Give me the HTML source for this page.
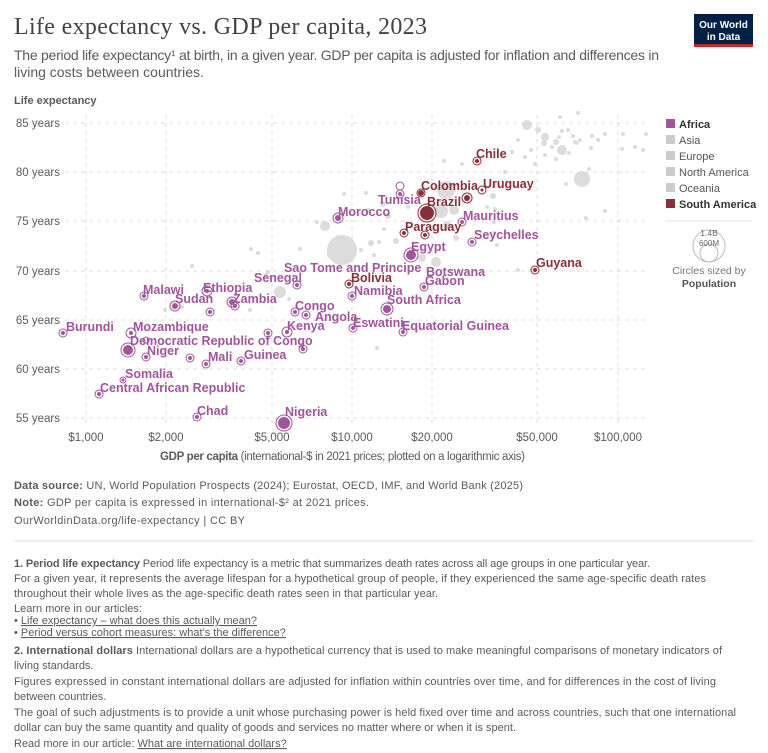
<!DOCTYPE html>
<html><head><meta charset="utf-8"><style>
html,body{margin:0;padding:0;background:#fff}
svg{display:block}
text{font-family:"Liberation Sans",sans-serif}
.af{fill:#a2559c;font-weight:bold;font-size:12.5px}
.sa{fill:#883039;font-weight:bold;font-size:12.5px}
.g{fill:#dcdcdc}
.tk{fill:#5b5b5b;font-size:11.5px}
.ft{fill:#5b5b5b;font-size:11px}
</style></head><body>
<svg width="768" height="753" viewBox="0 0 768 753" xmlns="http://www.w3.org/2000/svg">
<text x="14" y="34" font-family="Liberation Serif" font-size="24" fill="#444" textLength="413" style="font-family:'Liberation Serif',serif">Life expectancy vs. GDP per capita, 2023</text>
<text x="14" y="60" font-size="14" fill="#5b5b5b" textLength="645">The period life expectancy¹ at birth, in a given year. GDP per capita is adjusted for inflation and differences in</text>
<text x="14" y="77" font-size="14" fill="#5b5b5b">living costs between countries.</text>
<rect x="694" y="14" width="59" height="31" fill="#002147"/><rect x="694" y="44" width="59" height="3" fill="#ce261e"/>
<text x="723.5" y="28" font-size="10" fill="#fff" text-anchor="middle" font-weight="bold">Our World</text>
<text x="723.5" y="40" font-size="10" fill="#fff" text-anchor="middle" font-weight="bold">in Data</text>
<text x="14" y="104" font-size="11" font-weight="bold" fill="#5b5b5b">Life expectancy</text>
<g stroke="#ddd" stroke-dasharray="4,4" stroke-width="1">
<line x1="65" y1="123" x2="647" y2="123"/><line x1="65" y1="172" x2="647" y2="172"/><line x1="65" y1="221" x2="647" y2="221"/><line x1="65" y1="271" x2="647" y2="271"/><line x1="65" y1="320" x2="647" y2="320"/><line x1="65" y1="369" x2="647" y2="369"/><line x1="65" y1="418" x2="647" y2="418"/>
<line x1="86" y1="115" x2="86" y2="424"/><line x1="166" y1="115" x2="166" y2="424"/><line x1="272" y1="115" x2="272" y2="424"/><line x1="352" y1="115" x2="352" y2="424"/><line x1="432" y1="115" x2="432" y2="424"/><line x1="537" y1="115" x2="537" y2="424"/><line x1="618" y1="115" x2="618" y2="424"/>
</g>
<g class="tk" text-anchor="end">
<text x="60" y="127">85 years</text><text x="60" y="176">80 years</text><text x="60" y="225">75 years</text><text x="60" y="275">70 years</text><text x="60" y="324">65 years</text><text x="60" y="373">60 years</text><text x="60" y="422">55 years</text>
</g>
<g class="tk" text-anchor="middle">
<text x="86" y="441">$1,000</text><text x="166" y="441">$2,000</text><text x="272" y="441">$5,000</text><text x="352" y="441">$10,000</text><text x="432" y="441">$20,000</text><text x="537" y="441">$50,000</text><text x="618" y="441">$100,000</text>
</g>
<text x="160" y="460" font-size="11.5" fill="#5b5b5b" textLength="365"><tspan font-weight="bold">GDP per capita</tspan> (international-$ in 2021 prices; plotted on a logarithmic axis)</text>
<g class="g">
<circle cx="342" cy="250" r="15"/><circle cx="446" cy="190" r="9"/><circle cx="582" cy="179" r="8"/><circle cx="527" cy="125" r="5"/><circle cx="538" cy="130" r="3"/><circle cx="545" cy="137" r="4"/><circle cx="544" cy="143" r="3"/><circle cx="556" cy="142" r="3"/><circle cx="560" cy="117" r="2"/><circle cx="562" cy="131" r="2"/><circle cx="568" cy="130" r="2"/><circle cx="559" cy="137" r="2"/><circle cx="573" cy="136" r="2"/><circle cx="577" cy="143" r="2"/><circle cx="562" cy="150" r="5"/><circle cx="575" cy="142" r="2"/><circle cx="556" cy="159" r="2"/><circle cx="592" cy="136" r="2"/><circle cx="605" cy="134" r="2"/><circle cx="623" cy="134" r="2"/><circle cx="635" cy="147" r="2"/><circle cx="622" cy="149" r="2"/><circle cx="643" cy="150" r="2"/><circle cx="646" cy="134" r="2"/><circle cx="578" cy="113" r="2"/><circle cx="591" cy="148" r="2"/><circle cx="569" cy="153" r="2"/><circle cx="589" cy="169" r="2"/><circle cx="566" cy="184" r="2"/><circle cx="586" cy="218" r="2"/><circle cx="545" cy="155" r="2"/><circle cx="512" cy="152" r="2"/><circle cx="525" cy="157" r="2"/><circle cx="535" cy="164" r="2"/><circle cx="531" cy="150" r="2"/><circle cx="518" cy="140" r="2"/><circle cx="444" cy="161" r="2"/><circle cx="462" cy="164" r="2"/><circle cx="505" cy="172" r="2"/><circle cx="494" cy="186" r="2"/><circle cx="493" cy="196" r="3"/><circle cx="495" cy="209" r="2"/><circle cx="487" cy="207" r="2"/><circle cx="494" cy="222" r="2"/><circle cx="494" cy="233" r="2"/><circle cx="497" cy="245" r="2"/><circle cx="441" cy="211" r="7"/><circle cx="454" cy="210" r="5"/><circle cx="447" cy="225" r="4"/><circle cx="456" cy="238" r="3"/><circle cx="436" cy="262" r="5"/><circle cx="422" cy="258" r="4"/><circle cx="396" cy="241" r="3"/><circle cx="384" cy="229" r="2"/><circle cx="388" cy="216" r="3"/><circle cx="368" cy="211" r="3"/><circle cx="383" cy="204" r="3"/><circle cx="408" cy="207" r="2"/><circle cx="325" cy="226" r="5"/><circle cx="317" cy="222" r="2"/><circle cx="344" cy="194" r="2"/><circle cx="366" cy="193" r="2"/><circle cx="371" cy="243" r="3"/><circle cx="374" cy="255" r="2"/><circle cx="379" cy="242" r="2"/><circle cx="361" cy="250" r="2"/><circle cx="329" cy="255" r="2"/><circle cx="300" cy="249" r="2"/><circle cx="268" cy="272" r="2"/><circle cx="251" cy="249" r="2"/><circle cx="258" cy="253" r="2"/><circle cx="280" cy="292" r="6"/><circle cx="266" cy="275" r="2"/><circle cx="289" cy="299" r="2"/><circle cx="250" cy="310" r="2"/><circle cx="192" cy="266" r="2"/><circle cx="182" cy="307" r="2"/><circle cx="165" cy="310" r="2"/><circle cx="377" cy="348" r="2"/><circle cx="518" cy="270" r="2"/><circle cx="605" cy="211" r="2"/><circle cx="580" cy="140" r="2"/><circle cx="598" cy="140" r="2"/><circle cx="552" cy="147" r="2"/>
</g>
<g fill="none" stroke="#a2559c" stroke-width="1">
<circle cx="63" cy="333" r="4"/><circle cx="144" cy="296" r="4"/><circle cx="175" cy="306" r="5"/><circle cx="207" cy="291" r="5"/><circle cx="232" cy="302" r="5"/><circle cx="235" cy="306" r="4"/><circle cx="297" cy="285" r="4"/><circle cx="352" cy="296" r="4"/><circle cx="387" cy="309" r="6"/><circle cx="295" cy="312" r="4"/><circle cx="306" cy="315" r="4"/><circle cx="287" cy="332" r="5"/><circle cx="353" cy="328" r="4"/><circle cx="403" cy="332" r="4"/><circle cx="131" cy="333" r="5"/><circle cx="128" cy="350" r="7"/><circle cx="146" cy="357" r="4"/><circle cx="206" cy="364" r="4"/><circle cx="241" cy="361" r="4"/><circle cx="123" cy="380" r="3"/><circle cx="99" cy="394" r="4"/><circle cx="197" cy="417" r="4"/><circle cx="284" cy="423" r="8"/><circle cx="190" cy="358" r="4"/><circle cx="210" cy="312" r="4"/><circle cx="303" cy="349" r="4"/><circle cx="268" cy="333" r="4"/><circle cx="338" cy="218" r="5"/><circle cx="400" cy="194" r="4"/><circle cx="462" cy="222" r="4"/><circle cx="472" cy="242" r="4"/><circle cx="411" cy="255" r="7"/><circle cx="424" cy="287" r="4"/><circle cx="400" cy="186" r="4"/><circle cx="146" cy="340" r="3"/></g>
<g fill="#a2559c">
<circle cx="63" cy="333" r="2"/><circle cx="144" cy="296" r="2"/><circle cx="175" cy="306" r="3"/><circle cx="207" cy="291" r="2"/><circle cx="232" cy="302" r="3"/><circle cx="235" cy="306" r="2"/><circle cx="297" cy="285" r="2"/><circle cx="352" cy="296" r="2"/><circle cx="387" cy="309" r="4"/><circle cx="295" cy="312" r="2"/><circle cx="306" cy="315" r="2"/><circle cx="287" cy="332" r="2"/><circle cx="353" cy="328" r="2"/><circle cx="403" cy="332" r="2"/><circle cx="131" cy="333" r="2"/><circle cx="128" cy="350" r="5"/><circle cx="146" cy="357" r="2"/><circle cx="206" cy="364" r="2"/><circle cx="241" cy="361" r="2"/><circle cx="123" cy="380" r="1.5"/><circle cx="99" cy="394" r="2"/><circle cx="197" cy="417" r="2"/><circle cx="284" cy="423" r="6"/><circle cx="190" cy="358" r="2"/><circle cx="210" cy="312" r="2"/><circle cx="303" cy="349" r="2"/><circle cx="268" cy="333" r="2"/><circle cx="338" cy="218" r="3"/><circle cx="400" cy="194" r="2"/><circle cx="462" cy="222" r="2"/><circle cx="472" cy="242" r="2"/><circle cx="411" cy="255" r="5"/><circle cx="424" cy="287" r="2"/></g>
<g fill="none" stroke="#883039">
<circle cx="477" cy="161" r="4"/><circle cx="421" cy="193" r="4"/><circle cx="482" cy="190" r="4"/><circle cx="467" cy="198" r="5"/><circle cx="427" cy="213" r="9"/><circle cx="404" cy="233" r="4"/><circle cx="425" cy="235" r="4"/><circle cx="535" cy="270" r="4"/><circle cx="349" cy="284" r="4"/></g>
<g fill="#883039">
<circle cx="477" cy="161" r="2"/><circle cx="421" cy="193" r="3"/><circle cx="482" cy="190" r="1.5"/><circle cx="467" cy="198" r="3"/><circle cx="427" cy="213" r="7"/><circle cx="404" cy="233" r="2"/><circle cx="425" cy="235" r="2"/><circle cx="535" cy="270" r="2"/><circle cx="349" cy="284" r="2"/></g>
<g class="sa">
<text x="476" y="158">Chile</text><text x="421" y="190">Colombia</text><text x="483" y="188">Uruguay</text><text x="427" y="206">Brazil</text><text x="405" y="231">Paraguay</text><text x="536" y="267">Guyana</text><text x="351" y="282">Bolivia</text>
</g>
<g class="af">
<text x="378" y="204">Tunisia</text><text x="338" y="216">Morocco</text><text x="463" y="220">Mauritius</text><text x="474" y="239">Seychelles</text><text x="411" y="251">Egypt</text><text x="284" y="272">Sao Tome and Principe</text><text x="426" y="276">Botswana</text><text x="425" y="285">Gabon</text><text x="254" y="282">Senegal</text><text x="143" y="294">Malawi</text><text x="203" y="292">Ethiopia</text><text x="354" y="295">Namibia</text><text x="175" y="303">Sudan</text><text x="233" y="303">Zambia</text><text x="387" y="304">South Africa</text><text x="295" y="310">Congo</text><text x="315" y="321">Angola</text><text x="287" y="330">Kenya</text><text x="353" y="327">Eswatini</text><text x="402" y="330">Equatorial Guinea</text><text x="66" y="331">Burundi</text><text x="133" y="331">Mozambique</text><text x="130" y="345">Democratic Republic of Congo</text><text x="147" y="355">Niger</text><text x="208" y="361">Mali</text><text x="244" y="359">Guinea</text><text x="125" y="378">Somalia</text><text x="100" y="392">Central African Republic</text><text x="197" y="415">Chad</text><text x="285" y="416">Nigeria</text>
</g>
<rect x="666" y="119" width="9" height="9" fill="#a2559c"/><text x="679" y="128" font-size="11" font-weight="bold" fill="#333">Africa</text>
<rect x="666" y="135" width="9" height="9" fill="#ccc"/><text x="679" y="144" font-size="11" fill="#555">Asia</text>
<rect x="666" y="151" width="9" height="9" fill="#ccc"/><text x="679" y="160" font-size="11" fill="#555">Europe</text>
<rect x="666" y="167" width="9" height="9" fill="#ccc"/><text x="679" y="176" font-size="11" fill="#555">North America</text>
<rect x="666" y="183" width="9" height="9" fill="#ccc"/><text x="679" y="192" font-size="11" fill="#555">Oceania</text>
<rect x="666" y="199" width="9" height="9" fill="#883039"/><text x="679" y="208" font-size="11" font-weight="bold" fill="#333">South America</text>
<line x1="666" y1="221" x2="752" y2="221" stroke="#e6e6e6"/>
<circle cx="709" cy="246" r="16" fill="none" stroke="#bbb"/><circle cx="709" cy="253" r="9" fill="none" stroke="#bbb"/>
<text x="709" y="236" font-size="8.5" fill="#666" text-anchor="middle">1.4B</text>
<text x="709" y="246" font-size="8" fill="#666" text-anchor="middle">600M</text>
<text x="709" y="274" font-size="10.5" fill="#777" text-anchor="middle">Circles sized by</text>
<text x="709" y="287" font-size="10.5" fill="#555" font-weight="bold" text-anchor="middle">Population</text>
<text x="14" y="489" class="ft" textLength="509"><tspan font-weight="bold">Data source:</tspan> UN, World Population Prospects (2024); Eurostat, OECD, IMF, and World Bank (2025)</text>
<text x="14" y="506" class="ft" textLength="355"><tspan font-weight="bold">Note:</tspan> GDP per capita is expressed in international-$² at 2021 prices.</text>
<text x="14" y="524" class="ft" textLength="231">OurWorldinData.org/life-expectancy | CC BY</text>
<line x1="14" y1="541" x2="754" y2="541" stroke="#e2e2e2"/>
<g class="ft">
<text x="14" y="567" textLength="636"><tspan font-weight="bold">1. Period life expectancy</tspan> Period life expectancy is a metric that summarizes death rates across all age groups in one particular year.</text>
<text x="14" y="582" textLength="692">For a given year, it represents the average lifespan for a hypothetical group of people, if they experienced the same age-specific death rates</text>
<text x="14" y="597" textLength="424">throughout their whole lives as the age-specific death rates seen in that particular year.</text>
<text x="14" y="612" textLength="128">Learn more in our articles:</text>
<text x="14" y="624">• <tspan text-decoration="underline">Life expectancy – what does this actually mean?</tspan></text>
<text x="14" y="636">• <tspan text-decoration="underline">Period versus cohort measures: what’s the difference?</tspan></text>
<text x="14" y="654" textLength="708"><tspan font-weight="bold">2. International dollars</tspan> International dollars are a hypothetical currency that is used to make meaningful comparisons of monetary indicators of</text>
<text x="14" y="669">living standards.</text>
<text x="14" y="685" textLength="702">Figures expressed in constant international dollars are adjusted for inflation within countries over time, and for differences in the cost of living</text>
<text x="14" y="700">between countries.</text>
<text x="14" y="716" textLength="722">The goal of such adjustments is to provide a unit whose purchasing power is held fixed over time and across countries, such that one international</text>
<text x="14" y="731" textLength="502">dollar can buy the same quantity and quality of goods and services no matter where or when it is spent.</text>
<text x="14" y="747">Read more in our article: <tspan text-decoration="underline">What are international dollars?</tspan></text>
</g>
</svg>
</body></html>
